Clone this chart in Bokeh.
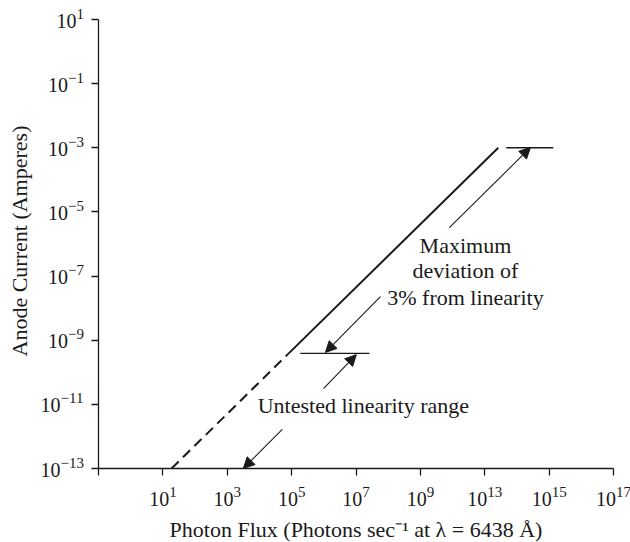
import math
from bokeh.plotting import figure
from bokeh.models import (FixedTicker, CustomJSTickFormatter, Arrow, NormalHead,
                          ColumnDataSource, Range1d, Label, LogAxis)
from bokeh.core.properties import value
from bokeh.embed import file_html
from bokeh.resources import INLINE

# ---------------- data (log10 exponents) ----------------
x_tick_exps = [-1, 1, 3, 5, 7, 9, 11, 13, 15]
x_label_exps = [1, 3, 5, 7, 9, 11, 13, 15]                 # ticks that carry a label
x_label_powers = ["1", "3", "5", "7", "9", "13", "15", "17"]  # printed exponents
y_tick_exps = [1, -1, -3, -5, -7, -9, -11, -13]
y_label_powers = ["1", "−1", "−3", "−5", "−7", "−9", "−11", "−13"]

x_title = "Photon Flux (Photons sec⁻¹ at λ = 6438 Å)"
y_title = "Anode Current (Amperes)"

# response line: untested (dashed) and tested (solid) parts
dashed_flux_exp = [1.27, 4.91]
dashed_current_exp = [-13.0, -9.41]
solid_flux_exp = [4.91, 11.42]
solid_current_exp = [-9.41, -3.0]

# limit bars
upper_bar_flux_exp = [11.67, 13.13]
upper_bar_current_exp = [-3.0, -3.0]
lower_bar_flux_exp = [5.27, 7.42]
lower_bar_current_exp = [-9.41, -9.41]

# arrows (start flux, start current, end flux, end current) exponents
arrow_x0 = [9.90, 7.76, 5.99, 4.71]
arrow_y0 = [-5.49, -7.64, -10.51, -11.78]
arrow_x1 = [12.42, 6.05, 7.01, 3.50]
arrow_y1 = [-2.99, -9.38, -9.45, -13.0]

# annotation texts
note_text = ["Maximum", "deviation of", "3% from linearity", "Untested linearity range"]
note_x = [10.40, 10.40, 10.40, 7.23]
note_y = [-6.05, -6.83, -7.67, -11.04]

# axis extents (exponents)
x_axis_exp = (-1, 15)
y_axis_exp = (-13, 1)

# ---------------- layout (pixels) ----------------
W, H = 630, 542
AX_LEFT, AX_RIGHT, AX_TOP, AX_BOTTOM = 98, 613, 19, 468   # where the axes sit

px_x = (AX_RIGHT - AX_LEFT) / (x_axis_exp[1] - x_axis_exp[0])
px_y = (AX_BOTTOM - AX_TOP) / (y_axis_exp[1] - y_axis_exp[0])
xr = (x_axis_exp[0] - AX_LEFT / px_x, x_axis_exp[1] + (W - AX_RIGHT) / px_x)
yr = (y_axis_exp[0] - (H - AX_BOTTOM) / px_y, y_axis_exp[1] + AX_TOP / px_y)

p10 = lambda seq: [10.0 ** v for v in seq]

FONT = "Liberation Serif"
INK = "#1a1a1a"
BASE_PX = 20
SUP_PX = 15
TITLE_PX = 22
SHIFT = 6   # baseline correction (px)


def sup_width(s):
    return sum((0.564 if c == "−" else 0.5) * SUP_PX for c in s)


BASE_W = 2 * 0.5 * BASE_PX

p = figure(width=W, height=H, x_axis_type="log", y_axis_type="log",
           x_axis_location=None, y_axis_location=None,
           x_range=Range1d(10.0 ** xr[0], 10.0 ** xr[1]),
           y_range=Range1d(10.0 ** yr[0], 10.0 ** yr[1]),
           output_backend="svg", toolbar_location=None,
           min_border=0, min_border_left=0, min_border_right=0,
           min_border_top=0, min_border_bottom=0)
p.outline_line_color = None
p.xgrid.visible = False
p.ygrid.visible = False
p.background_fill_color = "white"
p.border_fill_color = "white"

x_low, y_low = 10.0 ** x_axis_exp[0], 10.0 ** y_axis_exp[0]

xaxis = LogAxis(ticker=FixedTicker(ticks=p10(x_tick_exps), minor_ticks=[]),
                formatter=CustomJSTickFormatter(code="return '';"),
                fixed_location=y_low,
                bounds=(10.0 ** x_axis_exp[0], 10.0 ** x_axis_exp[1]))
yaxis = LogAxis(ticker=FixedTicker(ticks=p10(y_tick_exps), minor_ticks=[]),
                formatter=CustomJSTickFormatter(code="return '';"),
                fixed_location=x_low,
                bounds=(10.0 ** y_axis_exp[0], 10.0 ** y_axis_exp[1]))
for ax in (xaxis, yaxis):
    ax.axis_line_color = INK
    ax.axis_line_width = 1.3
    ax.major_tick_line_color = INK
    ax.major_tick_line_width = 1.3
    ax.major_tick_out = 0
    ax.major_tick_in = 7
    ax.minor_tick_line_color = None
    ax.major_label_standoff = 0
    ax.major_label_text_font_size = "0px"
p.add_layout(xaxis, "above")
p.add_layout(yaxis, "right")


def add_label(x, y, text, size, xo, yo, align="left", angle=0.0):
    p.add_layout(Label(x=x, y=y, text=text, x_offset=xo, y_offset=yo, angle=angle,
                       text_align=align, text_baseline="alphabetic",
                       text_font=FONT, text_font_size=f"{size}px", text_color=INK))


# ---- tick labels: "10" with a raised exponent ----
for e, s in zip(y_tick_exps, y_label_powers):
    w = sup_width(s)
    add_label(x_low, 10.0 ** e, "10", BASE_PX, -14.5 - w - BASE_W, -7 + SHIFT)
    add_label(x_low, 10.0 ** e, s, SUP_PX, -14.5 - w, 0 + SHIFT)

for e, s in zip(x_label_exps, x_label_powers):
    w = sup_width(s)
    add_label(10.0 ** e, y_low, "10", BASE_PX, -(BASE_W + w) / 2, -36 + SHIFT)
    add_label(10.0 ** e, y_low, s, SUP_PX, -(BASE_W + w) / 2 + BASE_W, -29 + SHIFT)

# ---- axis titles ----
x_mid = 10.0 ** ((x_axis_exp[0] + x_axis_exp[1]) / 2)
y_mid = 10.0 ** ((y_axis_exp[0] + y_axis_exp[1]) / 2)
add_label(x_mid, y_low, x_title, TITLE_PX, 0, -67 + SHIFT, align="center")
add_label(x_low, y_mid, y_title, TITLE_PX, -73 - SHIFT, 3, align="center", angle=math.pi / 2)

# ---- curve, bars, arrows, notes ----
p.line(p10(dashed_flux_exp), p10(dashed_current_exp), line_width=2, line_color=INK,
       line_dash="10 6")
p.line(p10(solid_flux_exp), p10(solid_current_exp), line_width=2, line_color=INK)
p.line(p10(upper_bar_flux_exp), p10(upper_bar_current_exp), line_width=1.4, line_color=INK)
p.line(p10(lower_bar_flux_exp), p10(lower_bar_current_exp), line_width=1.4, line_color=INK)

for xs, ys, xe, ye in zip(arrow_x0, arrow_y0, arrow_x1, arrow_y1):
    p.add_layout(Arrow(end=NormalHead(size=11, fill_color=INK, line_color=INK, line_width=1),
                       x_start=10.0 ** xs, y_start=10.0 ** ys,
                       x_end=10.0 ** xe, y_end=10.0 ** ye,
                       line_color=INK, line_width=1.1))

src = ColumnDataSource(dict(x=p10(note_x), y=p10(note_y), t=note_text))
p.text(x="x", y="y", text="t", source=src, text_font=value(FONT),
       text_font_size=f"{TITLE_PX}px",
       text_align="center", text_baseline="middle", text_color=INK)

open("out.html", "w").write(file_html(p, INLINE))
